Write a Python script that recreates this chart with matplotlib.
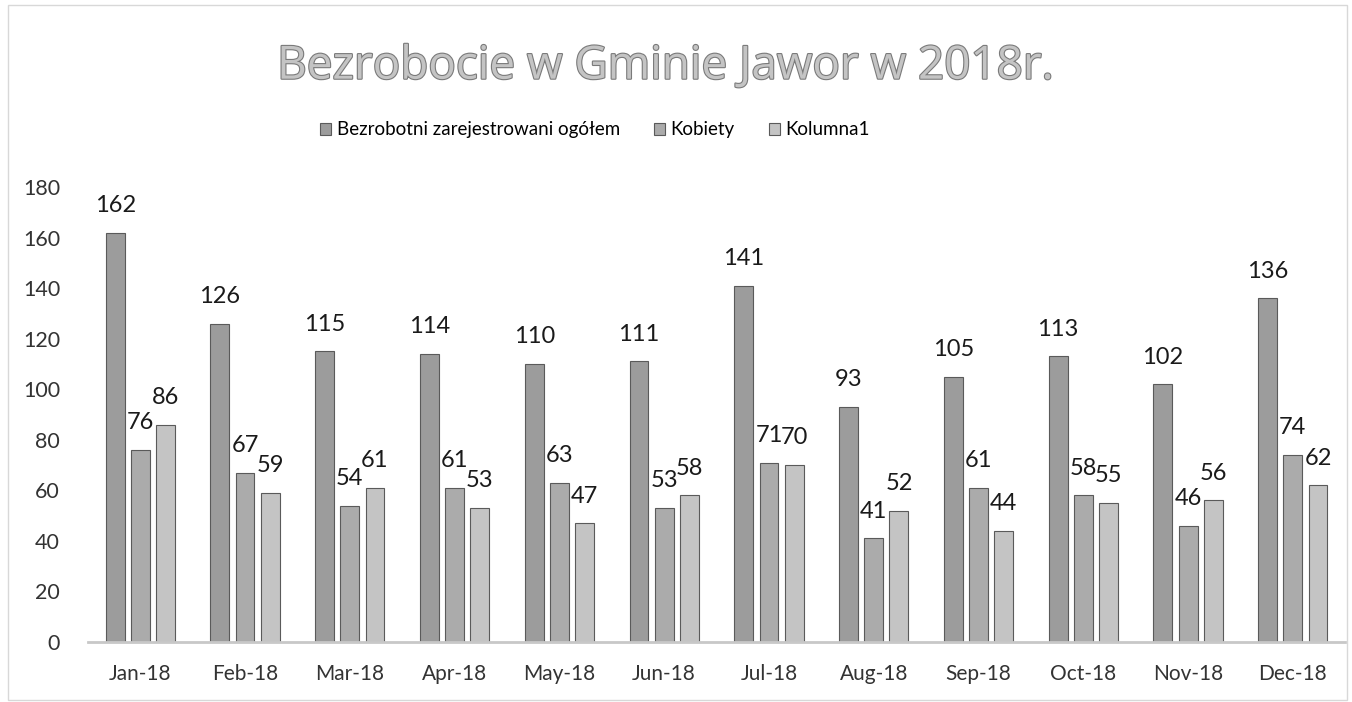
import numpy as np
import matplotlib.pyplot as plt
import matplotlib.patheffects as pe

months = ['Jan-18', 'Feb-18', 'Mar-18', 'Apr-18', 'May-18', 'Jun-18',
          'Jul-18', 'Aug-18', 'Sep-18', 'Oct-18', 'Nov-18', 'Dec-18']
ogolem = [162, 126, 115, 114, 110, 111, 141, 93, 105, 113, 102, 136]
kobiety = [76, 67, 54, 61, 63, 53, 71, 41, 61, 58, 46, 74]
kolumna1 = [86, 59, 61, 53, 47, 58, 70, 52, 44, 55, 56, 62]

series_names = ['Bezrobotni zarejestrowani ogółem', 'Kobiety', 'Kolumna1']
colors = ['#9c9c9c', '#ababab', '#c4c4c4']

plt.rcParams['font.family'] = ['Lato', 'DejaVu Sans']

fig = plt.figure(figsize=(13.52, 7.02), dpi=100)
ax = fig.add_axes([0.065, 0.0855, 0.93, 0.648])

x = np.arange(len(months))
w = 0.18
step = 0.24
for i, (vals, c, name) in enumerate(zip([ogolem, kobiety, kolumna1], colors, series_names)):
    pos = x + (i - 1) * step
    bars = ax.bar(pos, vals, width=w, color=c, edgecolor='#5a5a5a', linewidth=0.8, label=name)
    for b, v in zip(bars, vals):
        ax.annotate(str(v), (b.get_x() + b.get_width() / 2, v), xytext=(0, 12),
                    textcoords='offset points', ha='center', va='bottom',
                    fontsize=17, color='#1a1a1a')

ax.set_xlim(-0.5, len(months) - 0.5)
ax.set_ylim(0, 180)
ax.set_yticks(range(0, 181, 20))
ax.set_xticks(x)
ax.set_xticklabels(months)
ax.tick_params(axis='both', length=0, colors='#333333')
ax.tick_params(axis='y', pad=20, labelsize=15.5)
ax.tick_params(axis='x', pad=16, labelsize=15)
for s in ['top', 'right', 'left']:
    ax.spines[s].set_visible(False)
ax.spines['bottom'].set_color('#c8c8c8')
ax.spines['bottom'].set_linewidth(2)

fig.text(0.492, 0.905, 'Bezrobocie w Gminie Jawor w 2018r.', ha='center', va='center',
         fontsize=33, fontweight='normal', family=['Open Sans', 'DejaVu Sans'], color='#c4c4c4',
         path_effects=[pe.withStroke(linewidth=1.6, foreground='#7a7a7a')])

fig.legend(loc='center', bbox_to_anchor=(0.44, 0.815), ncol=3, frameon=False,
           fontsize=13.5, handlelength=0.6, handleheight=0.6, handletextpad=0.3,
           columnspacing=1.8)

fig.patches.append(plt.Rectangle((0.006, 0.003), 0.99, 0.99, transform=fig.transFigure,
                                 fill=False, edgecolor='#d8d8d8', linewidth=1))

fig.savefig('out.png', dpi=100)
